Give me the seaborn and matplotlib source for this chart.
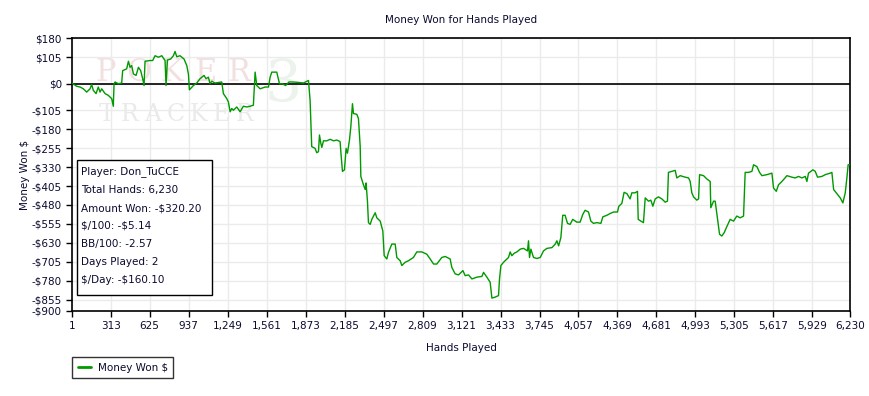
import pandas as pd
import matplotlib.pyplot as plt
import matplotlib.patches as mpatches
import seaborn as sns

# values (hand number, cumulative $ won)
hands = [1, 41, 68, 94, 121, 148, 161, 174, 196, 214, 228, 241, 268, 294, 321,
         334, 340, 348, 374, 401, 409, 441, 455, 468, 481, 495, 516, 535, 553,
         569, 580, 588, 628, 649, 668, 695, 722, 748, 756, 767, 793, 815, 828,
         842, 868, 900, 922, 935, 943, 975, 1002, 1028, 1060, 1076, 1095, 1108,
         1122, 1148, 1202, 1215, 1242, 1255, 1269, 1282, 1295, 1322, 1349, 1375,
         1402, 1429, 1455, 1469, 1482, 1509, 1549, 1576, 1589, 1602, 1642, 1664,
         1687, 1713, 1740, 1766, 1802, 1856, 1896, 1904, 1909, 1914, 1922, 1949,
         1962, 1976, 1984, 1995, 2003, 2016, 2043, 2069, 2096, 2123, 2149, 2157,
         2168, 2184, 2197, 2208, 2224, 2235, 2248, 2256, 2283, 2296, 2310, 2315,
         2336, 2350, 2357, 2368, 2376, 2390, 2403, 2430, 2443, 2470, 2491, 2502,
         2523, 2536, 2563, 2590, 2603, 2630, 2643, 2670, 2696, 2736, 2763, 2803,
         2843, 2870, 2897, 2923, 2963, 2990, 3030, 3043, 3070, 3097, 3132, 3150,
         3177, 3204, 3244, 3284, 3297, 3324, 3350, 3364, 3390, 3417, 3425, 3436,
         3457, 3470, 3497, 3510, 3524, 3543, 3564, 3591, 3617, 3649, 3657, 3665,
         3676, 3697, 3724, 3751, 3777, 3804, 3844, 3871, 3884, 3898, 3916, 3931,
         3950, 3969, 3990, 4011, 4043, 4070, 4091, 4110, 4137, 4156, 4177, 4204,
         4236, 4252, 4284, 4310, 4337, 4369, 4380, 4404, 4422, 4444, 4470, 4484,
         4510, 4529, 4535, 4556, 4577, 4591, 4617, 4636, 4652, 4671, 4697, 4724,
         4751, 4769, 4777, 4804, 4831, 4844, 4871, 4911, 4938, 4951, 4964, 4978,
         5004, 5018, 5026, 5058, 5084, 5111, 5116, 5138, 5151, 5170, 5186, 5204,
         5223, 5244, 5271, 5298, 5324, 5351, 5378, 5391, 5418, 5445, 5458, 5485,
         5506, 5525, 5565, 5605, 5618, 5640, 5658, 5685, 5703, 5725, 5765, 5792,
         5818, 5845, 5872, 5885, 5898, 5933, 5952, 5970, 6005, 6032, 6072, 6085,
         6099, 6125, 6152, 6173, 6192, 6205, 6215, 6230]
won = [3, -10, -13, -20, -33, -20, -3, -26, -39, -13, -33, -20, -39, -46, -59,
       -89, 0, 7, 0, 3, 52, 59, 89, 65, 72, 39, 33, 65, 52,
       20, -7, 89, 92, 92, 111, 105, 111, 92, -7, 94, 98, 111, 128,
       107, 111, 98, 72, 39, -24, -7, 3, 20, 33, 20, 26, 0,
       10, 3, 7, -39, -59, -72, -111, -98, -105, -92, -111, -89,
       -92, -89, -85, 46, -7, -20, -13, -13, 26, 46, 46, 0,
       0, -7, 7, 7, 6, 3, 13, -33, -66, -138, -249, -256,
       -273, -269, -203, -236, -252, -226, -226, -220, -226, -223, -229, -282,
       -347, -341, -256, -275, -223, -170, -79, -118, -121, -138, -249, -367,
       -400, -419, -393, -465, -550, -557, -537, -511, -531, -544, -583, -681,
       -694, -668, -635, -635, -688, -701, -720, -707, -701, -688, -666, -666,
       -675, -694, -714, -714, -688, -684, -694, -727, -753, -757, -740, -760,
       -757, -773, -766, -763, -747, -766, -786, -849, -845, -839, -773, -720,
       -707, -701, -688, -666, -681, -671, -666, -655, -652, -662, -622, -688,
       -655, -688, -692, -688, -662, -652, -649, -635, -622, -642, -609, -521,
       -521, -553, -557, -537, -548, -548, -518, -501, -508, -544, -553, -550,
       -553, -527, -521, -514, -508, -508, -485, -474, -430, -435, -456, -432,
       -432, -426, -537, -544, -550, -452, -465, -461, -485, -456, -448, -456,
       -469, -465, -351, -347, -343, -373, -364, -370, -373, -387, -432, -448,
       -461, -456, -360, -364, -377, -387, -491, -465, -465, -535, -596, -603,
       -590, -566, -537, -544, -524, -531, -524, -351, -351, -347, -321, -328,
       -351, -364, -360, -354, -413, -426, -400, -387, -377, -364, -370, -373,
       -367, -373, -367, -387, -354, -341, -347, -370, -367, -360, -354, -351,
       -419, -435, -452, -472, -432, -373, -321, -320.2]

y_ticks = [180, 105, 0, -105, -180, -255, -330, -405, -480, -555, -630, -705,
           -780, -855, -900]
x_ticks = [1, 313, 625, 937, 1249, 1561, 1873, 2185, 2497, 2809, 3121, 3433,
           3745, 4057, 4369, 4681, 4993, 5305, 5617, 5929, 6230]

info_lines = ["Player: Don_TuCCE", "Total Hands: 6,230", "Amount Won: -\\$320.20",
              "\\$/100: -\\$5.14", "BB/100: -2.57", "Days Played: 2",
              "\\$/Day: -\\$160.10"]

sns.set_theme(style="white")
plt.rcParams['font.family'] = ['DejaVu Sans']
txt = "#0a0a30"
fs = 7.5
W, H = 870, 396

df = pd.DataFrame({"Hands Played": hands, "Money Won $": won})

fig = plt.figure(figsize=(8.7, 3.96), dpi=100)
ax = fig.add_axes([71.7 / W, 1 - 311 / H, (850 - 71.7) / W, (311 - 38.3) / H])

# faint watermark
wm_font = dict(family="DejaVu Serif", transform=ax.transAxes, zorder=0,
               ha="center", va="center")
for i, ch in enumerate("POKER"):
    ax.text(0.043 + i * 0.043, 0.875, ch, fontsize=22, color="#f2e0e0", **wm_font)
for i, ch in enumerate("TRACKER"):
    ax.text(0.045 + i * 0.0295, 0.72, ch, fontsize=17, color="#e8ebe8", **wm_font)
ax.text(0.272, 0.83, "3", fontsize=42, color="#ecf3ec", **wm_font)

sns.lineplot(data=df, x="Hands Played", y="Money Won $", ax=ax,
             color="#009900", linewidth=1.0, legend=False, zorder=3)
ax.axhline(0, color="black", linewidth=1.2, zorder=2)

ax.set_xlim(1, 6230)
ax.set_ylim(-900, 180)
ax.set_xticks(x_ticks)
ax.set_xticklabels([f"{v:,}" for v in x_ticks])
ax.set_yticks(y_ticks)
ax.set_yticklabels([f"\\${v}" if v >= 0 else f"-\\${-v}" for v in y_ticks])
ax.grid(True, color="#ebebeb", linewidth=1)
for s in ax.spines.values():
    s.set_color("black")
    s.set_linewidth(1.2)
ax.tick_params(direction="out", length=4, width=1, color="black",
               labelsize=fs, labelcolor=txt, pad=3, left=True, bottom=True)
ax.set_xlabel("")
ax.set_ylabel("")

fig.text(461 / W, 1 - 20 / H, "Money Won for Hands Played", ha="center",
         va="center", fontsize=fs, color=txt)
fig.text(461 / W, 1 - 348 / H, "Hands Played", ha="center", va="center",
         fontsize=fs, color=txt)
fig.text(25 / W, 1 - 175 / H, "Money Won \\$", ha="center", va="center",
         rotation=90, fontsize=fs, color=txt)

# info box
fig.patches.append(mpatches.Rectangle((77.3 / W, 1 - 295.3 / H),
                                      (212.3 - 77.3) / W, (295.3 - 160) / H,
                                      transform=fig.transFigure, facecolor="white",
                                      edgecolor="black", linewidth=1, zorder=5))
for i, line in enumerate(info_lines):
    fig.text(81 / W, 1 - (172 + i * 18) / H, line, ha="left", va="center",
             fontsize=fs, color=txt, zorder=6)

handle = plt.Line2D([], [], color="#009900", linewidth=2)
leg = fig.legend([handle], ["Money Won \\$"], loc="upper left",
                 bbox_to_anchor=(72 / W, 1 - 357 / H), borderaxespad=0,
                 fontsize=fs, frameon=True, fancybox=False, handlelength=1.3,
                 handletextpad=0.6, borderpad=0.55, labelcolor=txt)
leg.get_frame().set_edgecolor("black")
leg.get_frame().set_linewidth(1)

fig.savefig("out.png", dpi=100)
